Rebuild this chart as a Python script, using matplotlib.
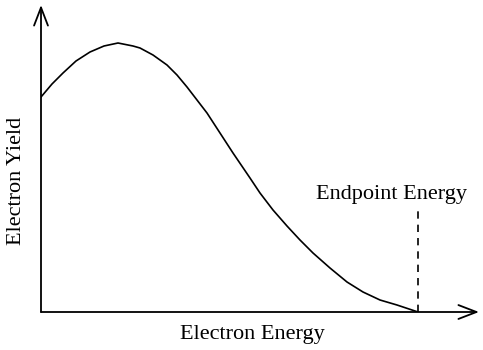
import numpy as np
import matplotlib.pyplot as plt

# curve (arbitrary units)
energy = [0, 11, 22, 35, 49, 63, 77, 92, 99, 112, 126, 136, 146, 156, 166, 179, 192,
          209, 219, 232, 246, 259, 272, 289, 306, 322, 339, 356, 377]
yield_ = [215, 228, 239, 251, 260, 266, 269, 266, 264, 257, 247, 237, 225, 212, 199, 179, 159,
          134, 119, 102, 86, 72, 59, 44, 30, 20, 12, 7, 0]
endpoint = 377
x_max, y_max = 438, 307

plt.rcParams['font.family'] = ['Liberation Serif', 'DejaVu Serif']

fig = plt.figure(figsize=(4.83, 3.5), dpi=100)
ax = fig.add_axes([41/483, 38/350, x_max/483, y_max/350])
ax.set_xlim(0, x_max)
ax.set_ylim(0, y_max)
for s in ax.spines.values():
    s.set_visible(False)
ax.set_xticks([])
ax.set_yticks([])

ax.plot(energy, yield_, color='black', lw=1.2, solid_joinstyle='round')

# axes as arrows
arrow = dict(arrowstyle='->,head_length=0.65,head_width=0.25', color='black', lw=1.3,
             mutation_scale=20, shrinkA=0, shrinkB=0)
ax.annotate('', xy=(1, 0), xytext=(0, 0), xycoords='axes fraction', arrowprops=arrow)
ax.annotate('', xy=(0, 1), xytext=(0, 0), xycoords='axes fraction', arrowprops=arrow)

ax.plot([endpoint, endpoint], [0, 104], color='black', lw=1.2, ls=(0, (4.4, 3.6)))
ax.text(351, 118, 'Endpoint Energy', ha='center', va='center', fontsize=16)

fig.text(252/483, 1 - 334/350, 'Electron Energy', ha='center', va='center', fontsize=16)
fig.text(17/483, 1 - 181/350, 'Electron Yield', ha='center', va='center', fontsize=16,
         rotation=90)

fig.savefig('out.png', dpi=100)
